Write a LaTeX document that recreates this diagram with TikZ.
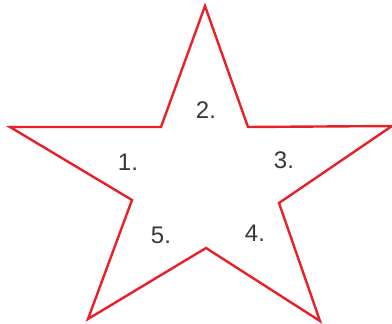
\documentclass[tikz,border=0pt]{standalone}
\usepackage{fontspec}
\setmainfont{Liberation Sans}
\usepackage{tikz}
\definecolor{starred}{RGB}{232,32,40}
\definecolor{numgray}{RGB}{55,55,55}
\tikzset{
  starline/.style={draw=starred, line width=2.4pt, line join=miter},
  num/.style={font=\fontsize{24}{27}\selectfont, text=numgray, inner sep=0pt}
}
\begin{document}
\begin{tikzpicture}[x=1pt, y=-1pt]
    \useasboundingbox (0,0) rectangle (392,324);
    % Star outline
    \coordinate (top) at (205,6);
    \coordinate (itr) at (248,127);
    \coordinate (rgt) at (392,126);
    \coordinate (irt) at (279,203);
    \coordinate (brt) at (320,321);
    \coordinate (ibt) at (206,248);
    \coordinate (blf) at (88,319);
    \coordinate (ilf) at (132,200);
    \coordinate (lft) at (10,127);
    \coordinate (itl) at (161,127);
    \draw[starline] (top) -- (itr) -- (rgt) -- (irt) -- (brt) -- (ibt)
      -- (blf) -- (ilf) -- (lft) -- (itl) -- cycle;
    % Numbers
    \node[num] (n1) at (128,162) {1.};
    \node[num] (n2) at (206,110) {2.};
    \node[num] (n3) at (284,160) {3.};
    \node[num] (n4) at (255,233) {4.};
    \node[num] (n5) at (161,235) {5.};
\end{tikzpicture}
\end{document}
